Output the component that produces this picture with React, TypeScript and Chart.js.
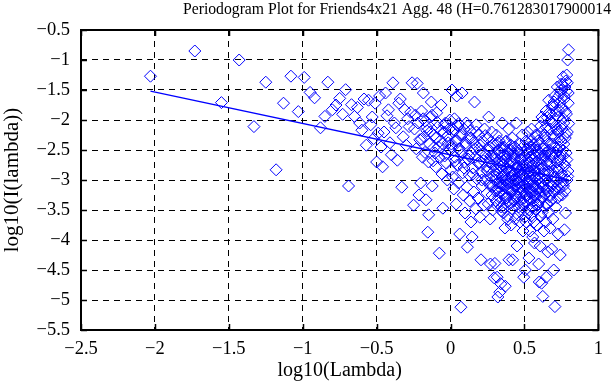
import React, { useEffect, useRef } from 'react';
import { Chart, registerables } from 'chart.js';

Chart.register(...registerables);

const chartTitle = 'Periodogram Plot for Friends4x21 Agg. 48 (H=0.761283017900014)';
const xAxisTitle = 'log10(Lambda)';
const yAxisTitle = 'log10(I(lambda))';

const xTickValues = [-2.5, -2, -1.5, -1, -0.5, 0, 0.5, 1];
const yTickValues = [-5.5, -5, -4.5, -4, -3.5, -3, -2.5, -2, -1.5, -1, -0.5];

// low frequencies (sparse part)
const sparseX = [-2.03, -1.73, -1.55, -1.43, -1.33, -1.25, -1.18, -1.13, -1.08, -1.03, -0.99, -0.95, -0.92, -0.88, -0.85,
  -0.83, -0.8, -0.775, -0.75, -0.73, -0.71, -0.69, -0.67, -0.65, -0.63, -0.615, -0.6, -0.585, -0.57, -0.555];
const sparseY = [-1.27, -0.85, -1.71, -1.0, -2.11, -1.37, -2.83, -1.72, -1.27, -1.86, -1.29, -1.54, -1.63, -2.13, -1.94,
  -1.37, -1.83, -1.75, -1.64, -1.905, -1.495, -3.1, -1.745, -1.94, -1.79, -2.05, -2.17, -1.65, -2.42, -1.67];

const bandAX = [-0.54, -0.53, -0.52, -0.51, -0.5, -0.49, -0.48, -0.47, -0.46, -0.45, -0.44, -0.43, -0.42, -0.41, -0.4,
  -0.39, -0.38, -0.37, -0.36, -0.35, -0.34, -0.33, -0.32, -0.31, -0.3, -0.29, -0.28, -0.27, -0.26];
const bandAY = [-2.08, -1.95, -2.31, -1.72, -2.7, -2.22, -1.6, -2.45, -2.78, -2.2, -1.55, -1.93, -1.83, -2.38, -2.58,
  -1.38, -2.05, -2.13, -2.67, -1.72, -1.65, -3.12, -2.28, -1.83, -2.42, -1.98, -2.11, -1.87, -1.38];

const bandBX = [-0.25, -0.244, -0.238, -0.232, -0.226, -0.22, -0.214, -0.208, -0.202, -0.196, -0.19, -0.184, -0.178, -0.172,
  -0.166, -0.16, -0.154, -0.148, -0.142, -0.136, -0.13, -0.124, -0.118, -0.112, -0.106, -0.1, -0.094, -0.088, -0.082, -0.076,
  -0.07, -0.064, -0.058, -0.052, -0.046, -0.04, -0.034, -0.028, -0.022, -0.016, -0.01, -0.004];
const bandBY = [-3.42, -2.15, -1.92, -2.48, -1.39, -2.05, -3.25, -2.33, -3.05, -1.85, -2.62, -1.55, -2.28, -2.02,
  -3.33, -2.18, -3.87, -3.58, -2.4, -1.95, -1.7, -3.1, -2.68, -2.25, -2.55, -2.78, -1.88, -2.12, -2.45, -4.22,
  -2.35, -1.75, -2.9, -3.47, -2.2, -2.6, -2.05, -2.72, -3.0, -2.38, -2.15, -2.5];

const bandCX = [0.002, 0.006, 0.01, 0.014, 0.018, 0.022, 0.026, 0.03, 0.034, 0.038, 0.042, 0.046, 0.05, 0.054, 0.058,
  0.062, 0.066, 0.07, 0.074, 0.078, 0.082, 0.086, 0.09, 0.094, 0.098, 0.102, 0.106, 0.11, 0.114, 0.118, 0.122, 0.126,
  0.13, 0.134, 0.138, 0.142, 0.146, 0.15, 0.154, 0.158, 0.162, 0.166, 0.17, 0.174, 0.178, 0.182, 0.186, 0.19, 0.194,
  0.198, 0.202, 0.206, 0.21, 0.214, 0.218, 0.222, 0.226, 0.23, 0.234, 0.238, 0.242, 0.246];
const bandCY = [-2.83, -2.4, -1.5, -2.95, -2.2, -3.15, -1.98, -2.62, -2.35, -3.4, -1.6, -2.75, -2.1, -3.05, -2.48,
  -3.9, -2.25, -5.12, -2.58, -1.55, -2.88, -3.25, -2.15, -2.7, -3.55, -2.42, -2.05, -3.12, -4.12, -2.65, -2.3, -2.92,
  -3.35, -2.18, -3.7, -2.55, -3.95, -2.8, -2.38, -3.2, -1.7, -2.62, -3.48, -2.08, -2.98, -2.45, -3.3, -2.72, -2.25,
  -3.62, -2.52, -4.33, -2.88, -3.1, -2.35, -2.68, -3.42, -2.15, -3.0, -2.58, -2.78, -3.22];

const bandDX = [0.25, 0.253, 0.255, 0.258, 0.26, 0.263, 0.265, 0.268, 0.27, 0.273,
  0.275, 0.278, 0.28, 0.283, 0.285, 0.288, 0.29, 0.293, 0.295, 0.298,
  0.3, 0.303, 0.305, 0.308, 0.31, 0.313, 0.315, 0.318, 0.32, 0.323,
  0.325, 0.328, 0.33, 0.333, 0.335, 0.338, 0.34, 0.343, 0.345, 0.348,
  0.35, 0.353, 0.355, 0.358, 0.36, 0.363, 0.365, 0.368, 0.37, 0.373,
  0.375, 0.378, 0.38, 0.383, 0.385, 0.388, 0.39, 0.393, 0.395, 0.398,
  0.4, 0.403, 0.405, 0.408, 0.41, 0.413, 0.415, 0.418, 0.42, 0.423,
  0.425, 0.428, 0.43, 0.433, 0.435, 0.438, 0.44, 0.443, 0.445, 0.448,
  0.45, 0.453, 0.455, 0.458, 0.46, 0.463, 0.465, 0.468, 0.47, 0.473,
  0.475, 0.478, 0.48, 0.483, 0.485, 0.488, 0.49, 0.493, 0.495, 0.498];
const bandDY = [-2.85, -2.3, -3.4, -1.95, -2.7, -3.05, -2.45, -3.65, -4.4, -2.6,
  -2.95, -2.2, -3.25, -2.75, -3.5, -2.4, -3.1, -2.85, -4.63, -2.55,
  -4.39, -3.0, -2.65, -3.35, -2.25, -2.9, -4.62, -3.15, -4.95, -2.5,
  -2.8, -3.2, -2.35, -4.87, -3.05, -2.7, -4.73, -3.45, -2.6, -2.95,
  -2.05, -3.1, -2.75, -3.55, -2.45, -3.25, -2.9, -3.8, -4.77, -2.65,
  -3.0, -2.35, -3.3, -2.8, -3.6, -2.55, -3.15, -2.15, -4.33, -2.95,
  -3.4, -2.7, -3.05, -2.5, -3.75, -2.85, -3.2, -2.3, -4.33, -3.0,
  -2.6, -3.35, -2.9, -3.1, -2.45, -3.65, -2.75, -3.25, -2.05, -3.0,
  -4.1, -2.8, -3.15, -2.55, -3.45, -2.95, -3.05, -2.4, -3.7, -2.85,
  -3.2, -2.65, -3.5, -2.9, -2.25, -3.1, -3.85, -2.75, -4.62, -3.3];

const bandEX = [0.5, 0.502, 0.504, 0.506, 0.508, 0.51, 0.512, 0.514, 0.516, 0.518,
  0.52, 0.522, 0.524, 0.526, 0.528, 0.53, 0.532, 0.534, 0.536, 0.538,
  0.54, 0.542, 0.544, 0.546, 0.548, 0.55, 0.552, 0.554, 0.556, 0.558,
  0.56, 0.562, 0.564, 0.566, 0.568, 0.57, 0.572, 0.574, 0.576, 0.578,
  0.58, 0.582, 0.584, 0.586, 0.588, 0.59, 0.592, 0.594, 0.596, 0.598,
  0.6, 0.602, 0.604, 0.606, 0.608, 0.61, 0.612, 0.614, 0.616, 0.618,
  0.62, 0.622, 0.624, 0.626, 0.628, 0.63, 0.632, 0.634, 0.636, 0.638,
  0.64, 0.642, 0.644, 0.646, 0.648, 0.65, 0.652, 0.654, 0.656, 0.658,
  0.66, 0.662, 0.664, 0.666, 0.668, 0.67, 0.672, 0.674, 0.676, 0.678,
  0.68, 0.682, 0.684, 0.686, 0.688, 0.69, 0.692, 0.694, 0.696, 0.698,
  0.7, 0.702, 0.704, 0.706, 0.708, 0.71, 0.712, 0.714, 0.716, 0.718,
  0.72, 0.722, 0.724, 0.726, 0.728, 0.73, 0.732, 0.734, 0.736, 0.738,
  0.74, 0.742, 0.744, 0.746, 0.748, 0.75, 0.752, 0.754, 0.756, 0.758,
  0.76, 0.762, 0.764, 0.766, 0.768, 0.77, 0.772, 0.774, 0.776, 0.778,
  0.78, 0.782, 0.784, 0.786, 0.788, 0.79, 0.792, 0.794, 0.796, 0.798];
const bandEY = [-2.95, -3.4, -2.6, -4.5, -3.1, -2.35, -3.7, -2.8, -3.25, -2.55,
  -3.05, -2.2, -3.55, -2.9, -3.3, -4.3, -2.7, -3.15, -2.45, -3.85,
  -2.85, -3.2, -2.5, -3.6, -2.15, -3.0, -3.45, -2.65, -3.95, -2.75,
  -3.1, -2.4, -3.35, -2.85, -4.05, -2.6, -3.25, -2.95, -2.25, -3.5,
  -2.7, -3.15, -3.75, -2.5, -3.0, -2.35, -3.4, -2.8, -4.4, -2.9,
  -4.7, -3.2, -2.55, -4.1, -3.05, -2.1, -3.6, -2.75, -4.72, -1.95,
  -3.3, -2.65, -4.94, -2.0, -3.1, -2.45, -3.85, -2.85, -3.45, -2.25,
  -3.0, -2.55, -3.7, -1.85, -4.62, -3.15, -2.7, -3.4, -2.35, -4.2,
  -2.9, -3.55, -1.67, -3.05, -2.5, -3.25, -2.15, -3.8, -2.75, -1.9,
  -3.35, -2.6, -4.15, -2.05, -3.1, -2.4, -3.65, -1.75, -2.85, -4.5,
  -3.2, -2.3, -1.6, -5.11, -2.95, -2.1, -3.45, -2.55, -1.85, -3.0,
  -2.7, -1.45, -3.3, -2.2, -3.9, -1.95, -2.8, -2.45, -3.15, -1.7,
  -2.6, -4.25, -1.55, -3.05, -2.35, -1.4, -2.9, -2.15, -3.25, -1.8,
  -2.5, -1.28, -3.1, -2.05, -1.65, -3.83, -2.75, -1.45, -2.3, -3.55,
  -1.35, -2.55, -1.9, -1.25, -3.0, -2.2, -1.0, -2.85, -1.55, -0.83];

// extra ordinates filling the dense core of the cloud
const coreX = [0.301, 0.304, 0.307, 0.31, 0.313, 0.316, 0.319, 0.322, 0.325, 0.328,
  0.331, 0.334, 0.337, 0.34, 0.343, 0.346, 0.349, 0.352, 0.355, 0.358,
  0.361, 0.364, 0.367, 0.37, 0.373, 0.376, 0.379, 0.382, 0.385, 0.388,
  0.391, 0.394, 0.397, 0.4, 0.403, 0.406, 0.409, 0.412, 0.415, 0.418,
  0.421, 0.424, 0.427, 0.43, 0.433, 0.436, 0.439, 0.442, 0.445, 0.448,
  0.451, 0.454, 0.457, 0.46, 0.463, 0.466, 0.469, 0.472, 0.475, 0.478,
  0.481, 0.484, 0.487, 0.49, 0.493, 0.496, 0.499, 0.502, 0.505, 0.508,
  0.511, 0.514, 0.517, 0.52, 0.523, 0.526, 0.529, 0.532, 0.535, 0.538,
  0.541, 0.544, 0.547, 0.55, 0.553, 0.556, 0.559, 0.562, 0.565, 0.568,
  0.571, 0.574, 0.577, 0.58, 0.583, 0.586, 0.589, 0.592, 0.595, 0.598,
  0.601, 0.604, 0.607, 0.61, 0.613, 0.616, 0.619, 0.622, 0.625, 0.628,
  0.631, 0.634, 0.637, 0.64, 0.643, 0.646, 0.649, 0.652, 0.655, 0.658,
  0.661, 0.664, 0.667, 0.67, 0.673, 0.676, 0.679, 0.682, 0.685, 0.688,
  0.691, 0.694, 0.697, 0.7, 0.703, 0.706, 0.709, 0.712, 0.715, 0.718,
  0.721, 0.724, 0.727, 0.73, 0.733, 0.736, 0.739, 0.742, 0.745, 0.748,
  0.751, 0.754, 0.757, 0.76, 0.763, 0.766, 0.769, 0.772, 0.775, 0.778,
  0.781, 0.784, 0.787, 0.79, 0.793, 0.796, 0.799];
const coreY = [-2.62, -3.18, -2.41, -2.95, -3.42, -2.72, -3.05, -2.38, -3.28, -2.88,
  -3.12, -2.55, -3.36, -2.78, -2.98, -3.52, -2.46, -3.08, -2.68, -3.22,
  -2.92, -3.46, -2.58, -3.02, -2.36, -3.3, -2.82, -3.14, -2.6, -3.66,
  -2.74, -3.06, -2.5, -3.38, -2.86, -3.2, -2.42, -2.96, -3.48, -2.7,
  -3.16, -2.56, -3.32, -2.9, -3.0, -2.64, -3.44, -2.8, -3.1, -2.48,
  -3.26, -2.76, -3.58, -2.52, -3.04, -2.84, -3.34, -2.66, -3.12, -2.94,
  -2.58, -3.4, -2.78, -3.18, -2.44, -3.08, -2.88, -3.62, -2.68, -3.24,
  -2.98, -2.5, -3.36, -2.72, -3.14, -2.4, -3.5, -2.86, -3.02, -2.62,
  -3.3, -2.76, -3.08, -2.34, -3.46, -2.92, -3.2, -2.56, -3.7, -2.82,
  -3.1, -2.46, -3.28, -2.7, -3.0, -2.26, -3.42, -2.84, -3.16, -2.58,
  -2.96, -2.38, -3.34, -2.64, -3.06, -2.2, -3.54, -2.8, -3.12, -2.48,
  -2.9, -2.3, -3.24, -2.6, -3.0, -2.12, -3.4, -2.74, -1.96, -3.18,
  -2.52, -2.86, -1.88, -3.28, -2.4, -2.7, -2.02, -3.08, -2.56, -1.78,
  -2.94, -2.26, -3.2, -1.7, -2.62, -2.46, -3.02, -1.92, -2.8, -2.16,
  -3.12, -1.62, -2.5, -2.84, -1.84, -3.26, -2.32, -2.68, -1.5, -2.96,
  -2.1, -2.58, -1.42, -3.06, -1.98, -2.4, -1.6, -2.76, -3.18, -1.86,
  -2.24, -1.52, -2.66, -1.38, -2.94, -1.72, -2.06];

const upperX = [-0.197, -0.185, -0.173, -0.161, -0.149, -0.137, -0.125, -0.113, -0.101, -0.089,
  -0.077, -0.065, -0.053, -0.041, -0.029, -0.017, -0.005, 0.007, 0.019, 0.031,
  0.043, 0.055, 0.067, 0.079, 0.091, 0.103, 0.115, 0.127, 0.139, 0.151,
  0.163, 0.175, 0.187, 0.199, 0.211, 0.223, 0.235, 0.247, 0.259, 0.271];
const upperY = [-2.32, -1.98, -2.54, -2.12, -2.7, -2.2, -1.92, -2.46, -2.3, -2.04,
  -2.62, -2.18, -2.4, -2.08, -2.56, -2.26, -2.0, -2.44, -2.16, -2.68,
  -2.34, -2.06, -2.52, -2.24, -2.8, -2.38, -2.1, -2.6, -2.3, -2.9,
  -2.48, -2.2, -2.72, -2.42, -3.0, -2.56, -2.26, -2.84, -2.5, -3.1];

// least-squares fit line (slope 1 - 2H)
const fitX = [-2.03, 0.8];
const fitY = [-1.52, -3.0];

const SERIF = '"Liberation Serif", "Times New Roman", serif';

const fmt = (v: number) => (v < 0 ? '\u2212' + String(Math.abs(v)) : String(v));

export default function App() {
  const ref = useRef<HTMLCanvasElement | null>(null);

  useEffect(() => {
    document.body.style.margin = '0';
    const canvas = ref.current;
    if (!canvas) return;

    const xs = [...sparseX, ...bandAX, ...bandBX, ...bandCX, ...bandDX, ...bandEX, ...coreX, ...upperX];
    const ys = [...sparseY, ...bandAY, ...bandBY, ...bandCY, ...bandDY, ...bandEY, ...coreY, ...upperY];
    const points = xs.map((x, i) => ({ x, y: ys[i] }));
    const fitPoints = fitX.map((x, i) => ({ x, y: fitY[i] }));

    const framePlugin = {
      id: 'frameTicks',
      afterDraw(chart: any) {
        const { ctx, chartArea } = chart;
        const { left, right, top, bottom } = chartArea;
        const sx = chart.scales.x;
        const sy = chart.scales.y;
        ctx.save();
        ctx.strokeStyle = '#000';
        ctx.lineWidth = 1.5;
        ctx.setLineDash([]);
        ctx.beginPath();
        xTickValues.forEach((v) => {
          const px = Math.round(sx.getPixelForValue(v)) + 0.5;
          ctx.moveTo(px, bottom);
          ctx.lineTo(px, bottom - 6);
          ctx.moveTo(px, top);
          ctx.lineTo(px, top + 6);
        });
        yTickValues.forEach((v) => {
          const py = Math.round(sy.getPixelForValue(v)) + 0.5;
          ctx.moveTo(left, py);
          ctx.lineTo(left + 6, py);
          ctx.moveTo(right, py);
          ctx.lineTo(right - 6, py);
        });
        ctx.stroke();
        ctx.lineWidth = 2;
        ctx.strokeRect(left, top, right - left, bottom - top);
        ctx.fillStyle = '#000';
        ctx.font = `15.7px ${SERIF}`;
        ctx.textAlign = 'left';
        ctx.textBaseline = 'alphabetic';
        ctx.fillText(chartTitle, 183, 14);
        ctx.restore();
      },
    };

    const chart = new Chart(canvas, {
      type: 'scatter',
      data: {
        datasets: [
          {
            label: 'fit',
            data: fitPoints,
            showLine: true,
            borderColor: '#0000ff',
            borderWidth: 1.3,
            pointRadius: 0,
            fill: false,
          },
          {
            label: 'periodogram',
            data: points,
            pointStyle: 'rectRot',
            pointRadius: 6,
            pointBorderWidth: 1,
            borderColor: '#0000ff',
            backgroundColor: 'rgba(0,0,0,0)',
            pointBackgroundColor: 'rgba(0,0,0,0)',
            showLine: false,
          },
        ],
      },
      options: {
        responsive: false,
        animation: false,
        layout: { padding: { left: 0, right: 3, top: 30, bottom: 0 } },
        plugins: {
          legend: { display: false },
          tooltip: { enabled: false },
          title: { display: false },
        },
        scales: {
          x: {
            type: 'linear',
            min: -2.5,
            max: 1,
            afterBuildTicks: (s: any) => {
              s.ticks = xTickValues.map((v) => ({ value: v }));
            },
            afterFit: (s: any) => {
              s.height = 55;
            },
            ticks: {
              callback: (v: any) => fmt(Number(v)),
              font: { family: SERIF, size: 18.5 },
              color: '#000',
              padding: 8,
              maxRotation: 0,
              autoSkip: false,
            },
            grid: { color: '#000', lineWidth: 1, drawTicks: false },
            border: { display: false, dash: [6, 5] },
            title: {
              display: true,
              text: xAxisTitle,
              font: { family: SERIF, size: 20 },
              color: '#000',
              padding: { top: 2, bottom: 2 },
            },
          },
          y: {
            type: 'linear',
            min: -5.5,
            max: -0.5,
            afterBuildTicks: (s: any) => {
              s.ticks = yTickValues.map((v) => ({ value: v }));
            },
            afterFit: (s: any) => {
              s.width = 81;
            },
            ticks: {
              callback: (v: any) => fmt(Number(v)),
              font: { family: SERIF, size: 18.5 },
              color: '#000',
              padding: 11,
              autoSkip: false,
            },
            grid: { color: '#000', lineWidth: 1, drawTicks: false },
            border: { display: false, dash: [6, 5] },
            title: {
              display: true,
              text: yAxisTitle,
              font: { family: SERIF, size: 21 },
              color: '#000',
              padding: { top: 0, bottom: 0 },
            },
          },
        },
      },
      plugins: [framePlugin],
    });

    return () => chart.destroy();
  }, []);

  return (
    <div style={{ width: 611, height: 385 }}>
      <canvas ref={ref} width={611} height={385} style={{ display: 'block' }} />
    </div>
  );
}
